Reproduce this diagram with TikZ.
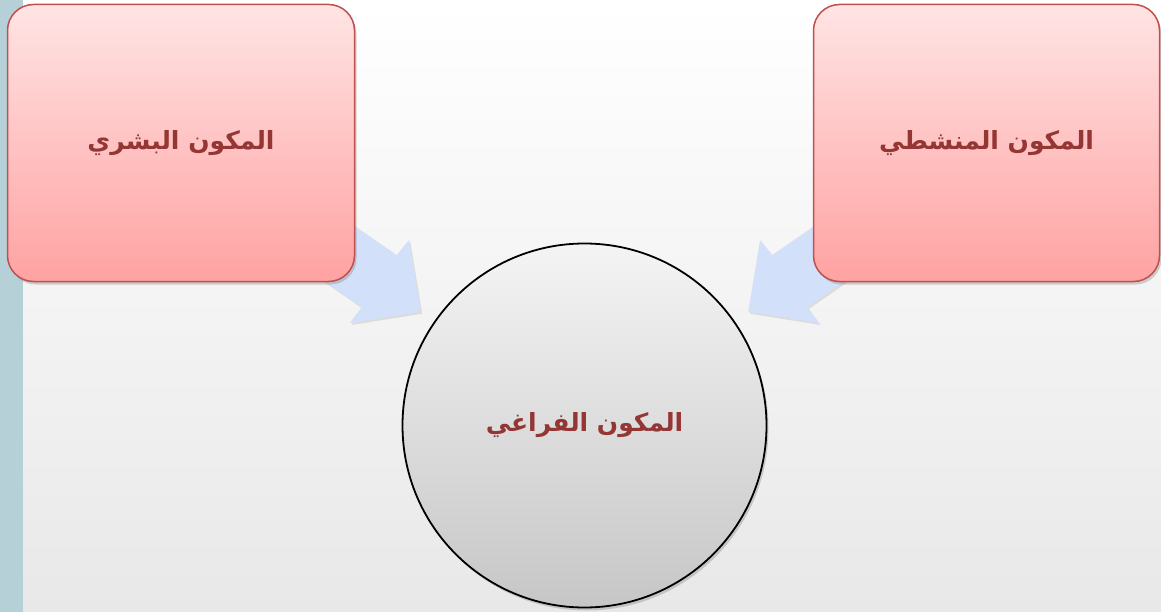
\documentclass[tikz,border=0pt]{standalone}
\usepackage{fontspec}
\newfontfamily\arabicfont[Script=Arabic]{DejaVu Sans}
\TeXXeTstate=1
\usetikzlibrary{shadows}
\definecolor{strip}{HTML}{B6D0D8}
\definecolor{boxtop}{HTML}{FFE4E4}
\definecolor{boxbot}{HTML}{FFA2A2}
\definecolor{boxline}{HTML}{C0504D}
\definecolor{txt}{HTML}{943634}
\definecolor{arrowfill}{HTML}{D3E0FA}
\definecolor{circtop}{HTML}{F4F4F4}
\definecolor{circbot}{HTML}{C6C6C6}
\tikzset{
  compbox/.style={rectangle, rounded corners=26pt, draw=boxline, line width=1.5pt,
    top color=boxtop, bottom color=boxbot, inner sep=0pt,
    drop shadow={shadow xshift=2pt, shadow yshift=-3pt, opacity=0.35},
    font=\arabicfont\bfseries\fontsize{25}{30}\selectfont, text=txt},
  compcirc/.style={circle, draw=black, line width=1.8pt,
    top color=circtop, bottom color=circbot, inner sep=0pt, minimum size=364pt,
    drop shadow={shadow xshift=2pt, shadow yshift=-3pt, opacity=0.35},
    font=\arabicfont\bfseries\fontsize{25}{30}\selectfont, text=txt},
  blockarrow/.style={fill=arrowfill, draw=none,
    drop shadow={shadow xshift=1.5pt, shadow yshift=-2pt, opacity=0.2}}
}
\begin{document}
\begin{tikzpicture}[x=1pt,y=-1pt]
\useasboundingbox (0,0) rectangle (1161,612);
% background
\shade[top color=white, bottom color=black!9] (0,0) rectangle (1161,612);
\fill[strip] (0,0) rectangle (23,612);
% block arrows (drawn first, tails hidden behind boxes)
\coordinate (la1) at (314.5,198.1);
\coordinate (la2) at (396.7,255);
\coordinate (la3) at (409,240);
\coordinate (la4) at (420.7,311.7);
\coordinate (la5) at (350,323);
\coordinate (la6) at (361.7,307);
\coordinate (la7) at (279.5,250.1);
\fill[blockarrow] (la1) -- (la2) -- (la3) -- (la4) -- (la5) -- (la6) -- (la7) -- cycle;
\coordinate (ra1) at (854.5,198.1);
\coordinate (ra2) at (772.3,255);
\coordinate (ra3) at (760,240);
\coordinate (ra4) at (748.3,311.7);
\coordinate (ra5) at (819,323);
\coordinate (ra6) at (807.3,307);
\coordinate (ra7) at (889.5,250.1);
\fill[blockarrow] (ra1) -- (ra2) -- (ra3) -- (ra4) -- (ra5) -- (ra6) -- (ra7) -- cycle;
% nodes
\node[compbox, minimum width=347pt, minimum height=277pt] (human) at (181,143)
  {\beginR المكون البشري\endR};
\node[compbox, minimum width=346pt, minimum height=277pt] (activity) at (986.5,143)
  {\beginR المكون المنشطي\endR};
\node[compcirc] (space) at (584.5,425.5) {\beginR المكون الفراغي\endR};
\end{tikzpicture}
\end{document}
